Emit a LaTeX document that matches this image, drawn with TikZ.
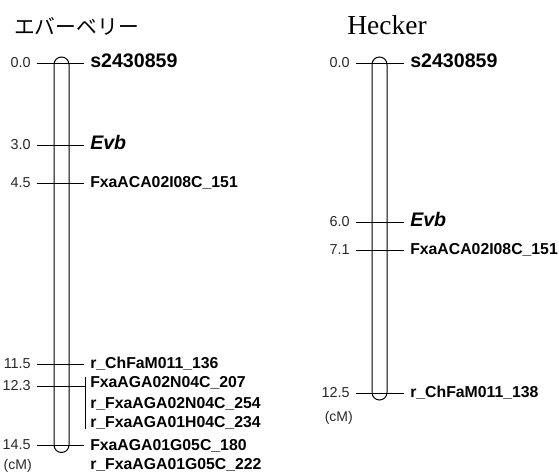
\documentclass[tikz,border=0pt]{standalone}
\usepackage{fontspec}
\setmainfont{Liberation Sans}
\newfontfamily\titleserif{Liberation Serif}
\newfontfamily\cjk{Noto Sans CJK JP}
\definecolor{numgray}{RGB}{40,40,40}
\tikzset{
  chrom/.style={draw=black, line width=0.75pt, fill=white},
  tickline/.style={draw=black, line width=0.75pt},
  numlab/.style={anchor=east, inner sep=0pt, text=numgray, font=\fontsize{10.8}{12}\selectfont, text height=0.72em, text depth=0pt},
  marklab/.style={anchor=west, inner sep=0pt, font=\fontsize{11.85}{13}\selectfont\bfseries, text height=0.72em, text depth=0pt},
  bigmark/.style={anchor=west, inner sep=0pt, font=\fontsize{14.7}{16}\selectfont\bfseries, text height=0.72em, text depth=0pt},
  unitlab/.style={anchor=east, inner sep=0pt, text=numgray, font=\fontsize{10.5}{12}\selectfont, text height=0.72em, text depth=0pt},
}
\begin{document}
\begin{tikzpicture}[x=0.75pt,y=-0.75pt]
\useasboundingbox (0,0) rectangle (559,475);

% titles
\node[inner sep=0pt, font=\cjk\fontsize{15.6}{17}\selectfont] (t1) at (76.5,26) {エバーベリー};
\node[inner sep=0pt, font=\titleserif\fontsize{20.6}{22}\selectfont] (t2) at (387,25) {Hecker};

% ---------- left chromosome ----------
\draw[chrom] (54,445) -- (54,64.5) arc[start angle=180, end angle=360, radius=7.5] -- (69,445) arc[start angle=0, end angle=180, radius=7.5] -- cycle;

\node[numlab] (a0) at (31,63) {0.0};
\node[bigmark] (la0) at (90,63) {s2430859};
\node[numlab] (a1) at (31,145) {3.0};
\node[bigmark] (la1) at (90,145) {\itshape Evb};
\node[numlab] (a2) at (31,183) {4.5};
\node[marklab] (la2) at (90,183) {FxaACA02I08C\_151};
\node[numlab] (a3) at (31,364) {11.5};
\node[marklab] (la3) at (90,364) {r\_ChFaM011\_136};
\node[numlab] (a4) at (31,386) {12.3};
\node[marklab] (la4a) at (90,383) {FxaAGA02N04C\_207};
\node[marklab] (la4b) at (90,404) {r\_FxaAGA02N04C\_254};
\node[marklab] (la4c) at (90,423) {r\_FxaAGA01H04C\_234};
\node[numlab] (a5) at (31,445) {14.5};
\node[marklab] (la5a) at (90,446) {FxaAGA01G05C\_180};
\node[marklab] (la5b) at (90,465) {r\_FxaAGA01G05C\_222};
\node[unitlab] (ua) at (32,465) {(cM)};

\coordinate (br1) at (85,377);
\coordinate (br2) at (85,429);
\coordinate (br0) at (85,386);

\draw[tickline, shorten <=4.5pt, shorten >=4.5pt] (a0.east) -- (la0.west);
\draw[tickline, shorten <=4.5pt, shorten >=4.5pt] (a1.east) -- (la1.west);
\draw[tickline, shorten <=4.5pt, shorten >=4.5pt] (a2.east) -- (la2.west);
\draw[tickline, shorten <=4.5pt, shorten >=4.5pt] (a3.east) -- (la3.west);
\draw[tickline, shorten <=4.5pt] (a4.east) -- (br0);
\draw[tickline] (br1) -- (br2);
\draw[tickline, shorten <=4.5pt, shorten >=4.5pt] (a5.east) -- (a5.east -| la5a.west);

% ---------- right chromosome ----------
\draw[chrom] (372,392.5) -- (372,64.5) arc[start angle=180, end angle=360, radius=7.5] -- (387,392.5) arc[start angle=0, end angle=180, radius=7.5] -- cycle;

\node[numlab] (b0) at (350,63) {0.0};
\node[bigmark] (lb0) at (410,63) {s2430859};
\node[numlab] (b1) at (350,222) {6.0};
\node[bigmark] (lb1) at (410,222) {\itshape Evb};
\node[numlab] (b2) at (350,250) {7.1};
\node[marklab] (lb2) at (410,250) {FxaACA02I08C\_151};
\node[numlab] (b3) at (350,393) {12.5};
\node[marklab] (lb3) at (410,393) {r\_ChFaM011\_138};
\node[unitlab] (ub) at (353,417) {(cM)};

\draw[tickline, shorten <=4.5pt, shorten >=4.5pt] (b0.east) -- (lb0.west);
\draw[tickline, shorten <=4.5pt, shorten >=4.5pt] (b1.east) -- (lb1.west);
\draw[tickline, shorten <=4.5pt, shorten >=4.5pt] (b2.east) -- (lb2.west);
\draw[tickline, shorten <=4.5pt, shorten >=4.5pt] (b3.east) -- (lb3.west);
\end{tikzpicture}
\end{document}
